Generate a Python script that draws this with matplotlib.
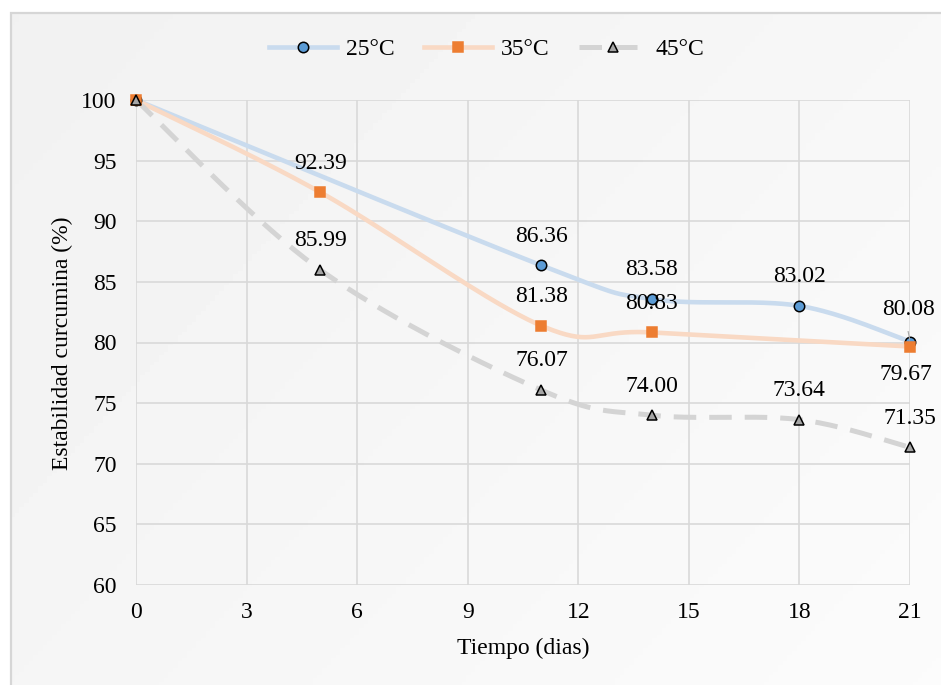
import numpy as np
import matplotlib
matplotlib.use('Agg')
import matplotlib.pyplot as plt
from matplotlib.patches import Rectangle
from matplotlib.lines import Line2D

plt.rcParams['font.family'] = ['Liberation Serif', 'DejaVu Serif']

# data
dias_25 = [0, 11, 14, 18, 21]
est_25 = [100, 86.36, 83.58, 83.02, 80.08]
dias_35 = [0, 5, 11, 14, 21]
est_35 = [100, 92.39, 81.38, 80.83, 79.67]
dias_45 = [0, 5, 11, 14, 18, 21]
est_45 = [100, 85.99, 76.07, 74.00, 73.64, 71.35]
series_names = ['25°C', '35°C', '45°C']
x_ticks = [0, 3, 6, 9, 12, 15, 18, 21]
y_ticks = [60, 65, 70, 75, 80, 85, 90, 95, 100]

FS = 17
W, H = 941, 685
fig = plt.figure(figsize=(W / 100, H / 100), dpi=100)
fig.patch.set_facecolor('white')

# background panel with soft gradient + frame
bg = fig.add_axes([10 / W, 0, 1 - 10 / W, 1 - 12 / H])
gx, gy = np.meshgrid(np.linspace(0, 1, 200), np.linspace(0, 1, 200))
grad = 0.945 + 0.04 * (gx * 0.6 + gy * 0.4)
bg.imshow(grad, cmap='gray', vmin=0, vmax=1, aspect='auto', extent=[0, 1, 0, 1],
          origin='upper')
bg.set_xlim(0, 1)
bg.set_ylim(0, 1)
bg.axis('off')
fig.add_artist(Rectangle((10.5 / W, -0.01), 1.0, 1 - 12.5 / H + 0.01, transform=fig.transFigure,
                         fill=False, edgecolor='#d6d6d6', linewidth=1.6))

ax = fig.add_axes([136 / W, 100 / H, 774 / W, 485 / H])
ax.patch.set_alpha(0)
ax.set_xlim(0, 21)
ax.set_ylim(60, 100)
ax.set_xticks(x_ticks)
ax.set_yticks(y_ticks)
ax.grid(True, color='#d9d9d9', linewidth=1.2)
ax.set_axisbelow(True)
for s in ax.spines.values():
    s.set_visible(False)
ax.tick_params(length=0, labelsize=FS, colors='black')
ax.tick_params(axis='x', pad=12)
ax.tick_params(axis='y', pad=14)

sx, sy = 774 / 21, 485 / 40


def smooth(xs, ys, n=40):
    # Excel style bezier smoothing
    p = np.column_stack([np.array(xs) * sx, np.array(ys) * sy])
    out = []
    for i in range(len(p) - 1):
        p0 = p[i - 1] if i > 0 else p[i]
        p3 = p[i + 2] if i + 2 < len(p) else p[i + 1]
        c1 = p[i] + (p[i + 1] - p0) / 6
        c2 = p[i + 1] - (p3 - p[i]) / 6
        t = np.linspace(0, 1, n)[:, None]
        seg = ((1 - t) ** 3 * p[i] + 3 * (1 - t) ** 2 * t * c1
               + 3 * (1 - t) * t ** 2 * c2 + t ** 3 * p[i + 1])
        out.append(seg if i == 0 else seg[1:])
    out = np.vstack(out)
    return out[:, 0] / sx, out[:, 1] / sy


styles = [
    dict(line='#c9dbee', ls='-', lw=3.3, marker='o', mfc='#5b9bd5', mec='black', ms=7.5),
    dict(line='#f9d9c4', ls='-', lw=3.3, marker='s', mfc='#ed7d31', mec='#ed7d31', ms=7.5),
    dict(line='#d4d4d4', ls=(0, (4.5, 2.6)), lw=3.6, marker='^', mfc='#a5a5a5', mec='black', ms=7.5),
]
datasets = [(dias_25, est_25), (dias_35, est_35), (dias_45, est_45)]

for (xs, ys), st in zip(datasets, styles):
    cx, cy = smooth(xs, ys)
    ax.plot(cx, cy, color=st['line'], linestyle=st['ls'], linewidth=st['lw'],
            solid_capstyle='butt', zorder=2)
    ax.plot(xs, ys, linestyle='none', marker=st['marker'], markerfacecolor=st['mfc'],
            markeredgecolor=st['mec'], markeredgewidth=1.1, markersize=st['ms'], zorder=3,
            clip_on=False)

# data labels (skip day 0)
label_offsets = {
    (21, 80.08): (-1, 23),
    (21, 79.67): (-3, -20),
}
for (xs, ys) in datasets:
    for x, y in zip(xs[1:], ys[1:]):
        dx, dy = label_offsets.get((x, y), (0, 21))
        ax.annotate(f'{y:.2f}', (x, y), xytext=(dx, dy), textcoords='offset points',
                    ha='center', va='center', fontsize=FS, zorder=4,
                    annotation_clip=False)
ax.plot([20.95, 21], [80.9, 80.15], color='#a6a6a6', linewidth=0.8, zorder=4)

fig.text(523 / W, 1 - 648 / H, 'Tiempo (dias)', ha='center', va='center', fontsize=FS)
fig.text(62 / W, 1 - 343 / H, 'Estabilidad curcumina (%)', ha='center', va='center',
         rotation=90, fontsize=FS)

handles = []
for name, st in zip(series_names, styles):
    handles.append(Line2D([], [], color=st['line'], linestyle=st['ls'], linewidth=st['lw'],
                          marker=st['marker'], markerfacecolor=st['mfc'],
                          markeredgecolor=st['mec'], markeredgewidth=1.1,
                          markersize=st['ms'], label=name))
fig.legend(handles=handles, loc='center', bbox_to_anchor=(487 / W, 1 - 49 / H), ncol=3,
           frameon=False, fontsize=FS, handlelength=2.85, handletextpad=0.4,
           columnspacing=1.25)

fig.savefig('out.png', dpi=100)
